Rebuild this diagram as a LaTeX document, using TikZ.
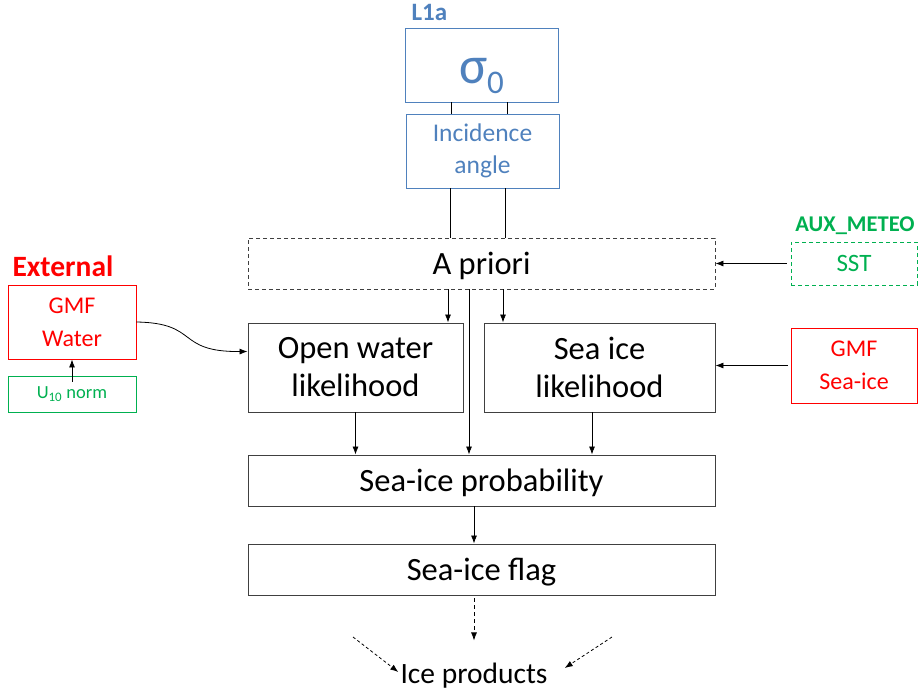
\documentclass[tikz,border=0pt]{standalone}
\usepackage{fontspec}
\setmainfont{Carlito}
\usetikzlibrary{arrows.meta}
\definecolor{bl}{HTML}{4F81BD}
\definecolor{gr}{HTML}{00B050}
\definecolor{rd}{HTML}{FF0000}
\definecolor{bd}{HTML}{404040}
\newcommand{\oneline}[1]{\raisebox{-10.5pt}[0pt][0pt]{#1}}
\begin{document}
\begin{tikzpicture}[x=1pt,y=-1pt,
  box/.style={draw=bd,line width=0.9pt,inner sep=0pt,align=center,font=\fontsize{32.5}{38}\selectfont},
  bbox/.style={draw=bl,line width=0.9pt,inner sep=0pt,align=center,text=bl},
  rbox/.style={draw=rd,line width=0.9pt,inner sep=0pt,align=center,text=rd,font=\fontsize{24}{33}\selectfont},
  gbox/.style={draw=gr,line width=0.9pt,inner sep=0pt,align=center,text=gr},
  con/.style={line width=0.8pt,black},
  arr/.style={con,-{Latex[length=8pt,width=6pt]}},
  dsh/.style={dash pattern=on 4pt off 3pt}
]
\useasboundingbox (0,0) rectangle (918,697);
% L1a
\node[text=bl,font=\fontsize{25}{30}\selectfont\bfseries,anchor=west] (l1a) at (408,12) {L1a};
\node[bbox,minimum width=153pt,minimum height=74pt] (sig) at (481.5,65) {\raisebox{-18pt}[0pt][0pt]{\fontsize{53}{56}\selectfont σ\raisebox{-10pt}{\fontsize{33}{35}\selectfont 0}}};
\node[bbox,minimum width=153pt,minimum height=74pt,font=\fontsize{25.5}{32}\selectfont] (inc) at (482.5,151) {Incidence\\angle};
% main column
\node[box,dsh,minimum width=467pt,minimum height=51pt] (apr) at (481.5,263.5) {\oneline{A priori}};
\node[box,minimum width=215pt,minimum height=89pt] (ow) at (355.5,367.5) {Open water\\likelihood};
\node[box,minimum width=231pt,minimum height=89pt] (si) at (599.5,367.5) {Sea ice\\likelihood};
\node[box,minimum width=467pt,minimum height=51pt] (prob) at (481.5,480.5) {\oneline{Sea-ice probability}};
\node[box,minimum width=467pt,minimum height=51pt] (flag) at (481.5,569.5) {\oneline{Sea-ice flag}};
\node[inner sep=0pt,font=\fontsize{29.5}{36}\selectfont] (ip) at (474,676) {Ice products};
% external
\node[text=rd,font=\fontsize{29.5}{34}\selectfont\bfseries,anchor=west] (ext) at (9,266) {External};
\node[rbox,minimum width=128pt,minimum height=74pt] (gmfw) at (72,322) {GMF\\Water};
\node[gbox,minimum width=128pt,minimum height=36pt,font=\fontsize{18.5}{20}\selectfont] (u10) at (72,394) {U\textsubscript{10} norm};
% right side
\node[text=gr,font=\fontsize{22.5}{26}\selectfont\bfseries] (aux) at (855,226) {AUX\_METEO};
\node[gbox,dsh,minimum width=126pt,minimum height=43pt,font=\fontsize{25}{30}\selectfont] (sst) at (854,263.5) {SST};
\node[rbox,minimum width=126pt,minimum height=75pt] (gmfs) at (854,365.5) {GMF\\Sea-ice};
% connectors
\draw[con] ([xshift=-30.5pt]sig.south) -- ([xshift=-30.5pt]sig.south |- inc.north);
\draw[con] ([xshift=25.5pt]sig.south) -- ([xshift=25.5pt]sig.south |- inc.north);
\draw[con] ([xshift=-32.5pt]inc.south) -- ([xshift=-32.5pt]inc.south |- apr.north);
\draw[con] ([xshift=22.5pt]inc.south) -- ([xshift=22.5pt]inc.south |- apr.north);
\draw[arr] ([xshift=-33.5pt]apr.south) -- ([xshift=-33.5pt]apr.south |- ow.north);
\draw[arr] ([xshift=21.5pt]apr.south) -- ([xshift=21.5pt]apr.south |- si.north);
\draw[arr] ([xshift=-12.5pt]apr.south) -- ([xshift=-12.5pt]apr.south |- prob.north);
\draw[arr] (ow.south) -- (ow.south |- prob.north);
\draw[arr] ([xshift=-7.5pt]si.south) -- ([xshift=-7.5pt]si.south |- prob.north);
\draw[arr] ([xshift=-7.5pt]prob.south) -- ([xshift=-7.5pt]prob.south |- flag.north);
\draw[arr,dsh] ([xshift=-7.5pt,yshift=-3pt]flag.south) -- ([xshift=-7.5pt,yshift=-45pt]flag.south);
\coordinate (cl) at (353,637);
\coordinate (cr) at (612,637);
\draw[arr,dash pattern=on 3pt off 2.5pt] (cl) -- ([xshift=-2pt,yshift=4pt]ip.west);
\draw[arr,dash pattern=on 3pt off 2.5pt] (cr) -- ([xshift=17pt,yshift=8pt]ip.east);
\draw[arr] ([yshift=-6pt]u10.north) -- (gmfw.south);
\draw[arr] (gmfw.east) .. controls (200,323) and (175,352) .. ([yshift=16pt]ow.west);
\draw[arr] ([xshift=-4pt]sst.west) -- (apr.east);
\draw[arr] ([xshift=-3pt]gmfs.west) -- (gmfs.west -| si.east);
\end{tikzpicture}
\end{document}
